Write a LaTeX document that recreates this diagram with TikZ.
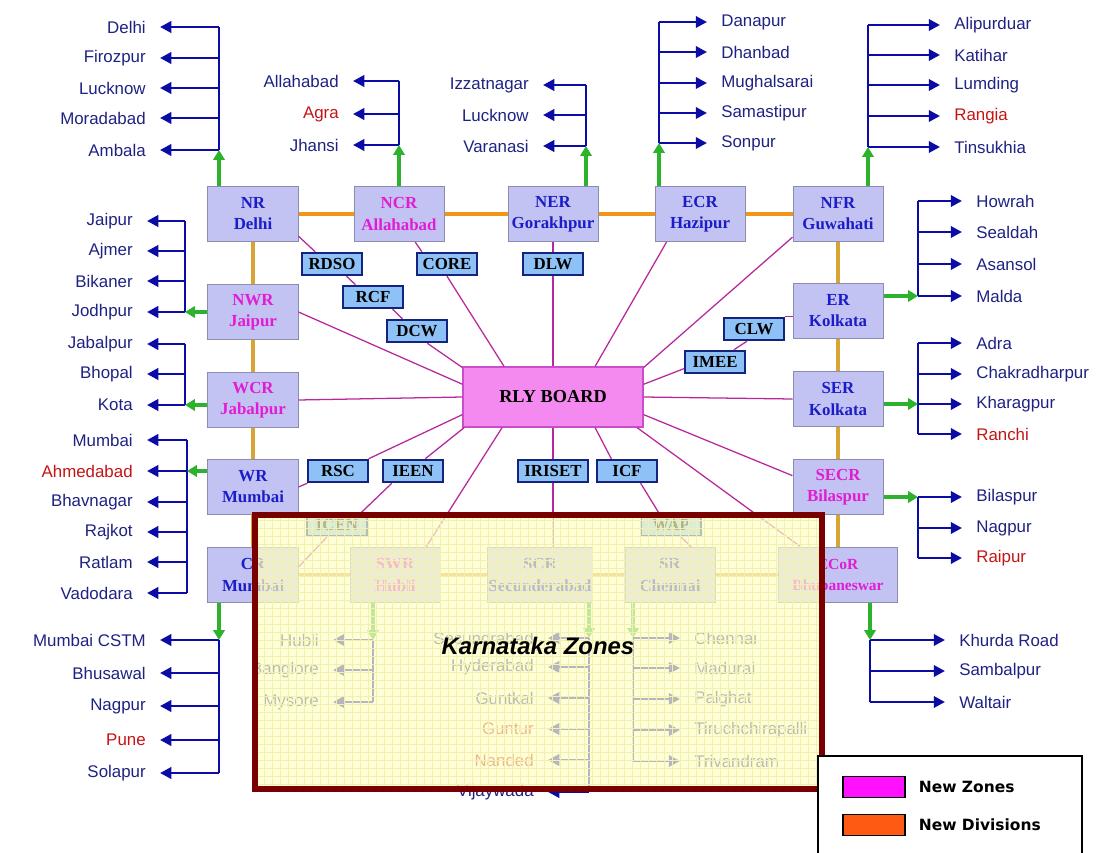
\documentclass[tikz,border=0pt]{standalone}
\usepackage{fontspec}
\setmainfont{Liberation Sans}
\newfontfamily\zonefont{Liberation Serif}
\newfontfamily\legfont{DejaVu Sans}
\usetikzlibrary{arrows.meta, positioning}
\definecolor{zonefill}{HTML}{C2C3F2}
\definecolor{zoneedge}{HTML}{8A8CB0}
\definecolor{zoneblue}{HTML}{1C1CC8}
\definecolor{zonemag}{HTML}{E21CD6}
\definecolor{divblue}{HTML}{1E2282}
\definecolor{divred}{HTML}{C41414}
\definecolor{arrblue}{HTML}{0B0BA6}
\definecolor{arrgreen}{HTML}{2DB22D}
\definecolor{linkorange}{HTML}{F2961A}
\definecolor{linkgold}{HTML}{D9A436}
\definecolor{linkpink}{HTML}{B8289C}
\definecolor{unitfill}{HTML}{8EC2F6}
\definecolor{unitedge}{HTML}{14237E}
\definecolor{boardfill}{HTML}{F48AF0}
\definecolor{boardedge}{HTML}{C84FC8}
\definecolor{kframe}{HTML}{7A0000}
\definecolor{kfill}{HTML}{FFFFC6}
\definecolor{kgrid}{HTML}{F3EFAE}
\definecolor{newzone}{HTML}{FF10FF}
\definecolor{newdiv}{HTML}{FF5A14}

\tikzset{
  zone/.style={draw=zoneedge, line width=0.7pt, fill=zonefill, minimum width=2.25cm,
    minimum height=1.38cm, align=center, inner sep=1pt,
    font=\zonefont\bfseries\fontsize{12}{15}\selectfont},
  unit/.style={draw=unitedge, line width=1.5pt, fill=unitfill, minimum width=1.48cm,
    minimum height=0.56cm, inner sep=1pt, font=\zonefont\bfseries\fontsize{12}{14}\selectfont},
  board/.style={draw=boardedge, line width=0.8pt, fill=boardfill, minimum width=4.5cm,
    minimum height=1.5cm, font=\zonefont\bfseries\fontsize{13}{15}\selectfont},
  divl/.style={font=\fontsize{12}{14}\selectfont, inner xsep=10pt, inner ysep=1pt},
  grn/.style={arrgreen, line width=2.8pt, -{Triangle[length=7pt, width=8pt]}},
  blu/.style={arrblue, line width=2pt, -{Triangle[length=8pt, width=8pt]}},
  stem/.style={arrblue, line width=1.6pt},
  orn/.style={linkorange, line width=2.6pt},
  gld/.style={linkgold, line width=2.6pt},
  pnk/.style={linkpink, line width=0.9pt},
  swatch/.style={draw=black, line width=1.2pt, minimum width=1.55cm, minimum height=0.52cm, inner sep=0pt},
  legt/.style={font=\legfont\bfseries\fontsize{11}{13}\selectfont},
}

\begin{document}
\begin{tikzpicture}[x=0.025cm, y=-0.025cm]
  \clip (0,0) rectangle (1104,853);

  % Zones
  \node[zone, text=zoneblue] (nr) at (253,214) {NR\\Delhi};
  \node[zone, text=zonemag] (ncr) at (399,214) {NCR\\Allahabad};
  \node[zone, text=zoneblue] (ner) at (553,214) {NER\\Gorakhpur};
  \node[zone, text=zoneblue] (ecr) at (700,214) {ECR\\Hazipur};
  \node[zone, text=zoneblue] (nfr) at (838,214) {NFR\\Guwahati};
  \node[zone, text=zonemag] (nwr) at (253,312) {NWR\\Jaipur};
  \node[zone, text=zonemag] (wcr) at (253,400) {WCR\\Jabalpur};
  \node[zone, text=zoneblue] (wr) at (253,487) {WR\\Mumbai};
  \node[zone, text=zoneblue] (cr) at (253,575) {CR\\Mumbai};
  \node[zone, text=zoneblue] (er) at (838,311) {ER\\Kolkata};
  \node[zone, text=zoneblue] (ser) at (838,399) {SER\\Kolkata};
  \node[zone, text=zonemag] (secr) at (838,487) {SECR\\Bilaspur};
  \node[zone, text=zonemag, minimum width=2.97cm, font=\zonefont\bfseries\fontsize{11}{15}\selectfont] (ecor) at (838,575) {ECoR\\Bhubaneswar};
  \node[zone, text=zonemag] (swr) at (395,575) {SWR\\Hubli};
  \node[zone, text=zoneblue, minimum width=2.62cm] (scr) at (540,575) {SCR\\Secunderabad};
  \node[zone, text=zoneblue] (sr) at (670,575) {SR\\Chennai};

  % Board and units
  \node[board] (rly) at (553,397) {RLY BOARD};
  \node[unit] (rdso) at (332,264) {RDSO};
  \node[unit] (core) at (447,264) {CORE};
  \node[unit] (dlw) at (553,264) {DLW};
  \node[unit] (rcf) at (373,297) {RCF};
  \node[unit] (dcw) at (417,331) {DCW};
  \node[unit] (clw) at (754,329) {CLW};
  \node[unit] (imee) at (715,362) {IMEE};
  \node[unit] (rsc) at (338,471) {RSC};
  \node[unit] (ieen) at (413,471) {IEEN};
  \node[unit, minimum width=1.75cm] (iriset) at (553,471) {IRISET};
  \node[unit] (icf) at (627,471) {ICF};
  \node[unit] (icen) at (337,525) {ICEN};
  \node[unit] (wap) at (671,525) {WAP};

  % Links between zones
  \foreach \a/\b in {nr/ncr, ncr/ner, ner/ecr, ecr/nfr}
    \draw[orn] (\a) -- (\b);
  \foreach \a/\b in {nr/nwr, nwr/wcr, wcr/wr, wr/cr, nfr/er, er/ser, ser/secr, secr/ecor,
                     cr/swr, swr/scr, scr/sr, sr/ecor}
    \draw[gld] (\a) -- (\b);

  % Links from the board
  \draw[pnk] (nwr.east) -- (rly.172);
  \draw[pnk] (wcr.east) -- (rly.west);
  \draw[pnk] (rly.191) -- (rsc.north east);
  \draw[pnk] (wr.east) -- (rsc.south west);
  \draw[pnk] (rly.199) -- (ieen.45);
  \draw[pnk] (ieen.210) -- (icen.27);
  \draw[pnk] (icen.230) -- (cr.10);
  \draw[pnk] (rly.211) -- (swr.42);
  \draw[pnk] (rly.south) -- (iriset.north);
  \draw[pnk] (iriset.south) -- (iriset.south |- scr.north);
  \draw[pnk] (rly.-36) -- (icf.142);
  \draw[pnk] (icf.-42) -- (wap.135);
  \draw[pnk] (wap.-50) -- (sr.53);
  \draw[pnk] (rly.-20) -- (ecor.143);
  \draw[pnk] (rly.-11) -- (secr.166);
  \draw[pnk] (rly.east) -- (ser.west);
  \draw[pnk] (rly.8) -- (imee.192);
  \draw[pnk] (imee.33) -- (clw.240);
  \draw[pnk] (clw.north east) -- (er.west |- clw.north east);
  \draw[pnk] (rly.18) -- (nfr.207);
  \draw[pnk] (rly.36) -- (ecr.220);
  \draw[pnk] (rly.north) -- (dlw.south);
  \draw[pnk] (dlw.north) -- (dlw.north |- ner.south);
  \draw[pnk] (rly.148) -- (core.south);
  \draw[pnk] (core.154) -- (ncr.-60);
  \draw[pnk] (rly.162) -- (dcw.-50);
  \draw[pnk] (dcw.140) -- (rcf.-32);
  \draw[pnk] (rcf.145) -- (rdso.-40);
  \draw[pnk] (rdso.144) -- (nr.-26);

  % Divisions, left pointing
  \coordinate (nrs) at (219,150);
  \foreach \nm/\y/\cl [count=\i] in {Delhi/27/divblue, Firozpur/58/divblue, Lucknow/88/divblue,
      Moradabad/118/divblue, Ambala/150/divblue}{
    \node[divl, text=\cl, anchor=east] (nr\i) at (160,\y) {\nm};
    \draw[blu] (nrs |- nr\i) -- (nr\i.east);
  }
  \draw[stem] (nrs |- nr1) -- (nrs);
  \draw[grn] (nrs |- nr.north) -- (nrs);

  \coordinate (ncrs) at (399,145);
  \foreach \nm/\y/\cl [count=\i] in {Allahabad/81/divblue, Agra/114/divred, Jhansi/145/divblue}{
    \node[divl, text=\cl, anchor=east] (ncr\i) at (353,\y) {\nm};
    \draw[blu] (ncrs |- ncr\i) -- (ncr\i.east);
  }
  \draw[stem] (ncrs |- ncr1) -- (ncrs);
  \draw[grn] (ncrs |- ncr.north) -- (ncrs);

  \coordinate (ners) at (586,146);
  \foreach \nm/\y/\cl [count=\i] in {Izzatnagar/85/divblue, Lucknow/115/divblue, Varanasi/146/divblue}{
    \node[divl, text=\cl, anchor=east] (ner\i) at (543,\y) {\nm};
    \draw[blu] (ners |- ner\i) -- (ner\i.east);
  }
  \draw[stem] (ners |- ner1) -- (ners);
  \draw[grn] (ners |- ner.north) -- (ners);

  \coordinate (nwrs) at (185,312);
  \foreach \nm/\y/\cl [count=\i] in {Jaipur/221/divblue, Ajmer/251/divblue, Bikaner/281/divblue,
      Jodhpur/312/divblue}{
    \node[divl, text=\cl, anchor=east] (nwr\i) at (147,\y) {\nm};
    \draw[blu] (nwrs |- nwr\i) -- (nwr\i.east);
  }
  \draw[stem] (nwrs |- nwr1) -- (nwrs);
  \draw[grn] (nwr.west |- nwrs) -- (nwrs);

  \coordinate (wcrs) at (185,405);
  \foreach \nm/\y/\cl [count=\i] in {Jabalpur/344/divblue, Bhopal/374/divblue, Kota/405/divblue}{
    \node[divl, text=\cl, anchor=east] (wcr\i) at (147,\y) {\nm};
    \draw[blu] (wcrs |- wcr\i) -- (wcr\i.east);
  }
  \draw[stem] (wcrs |- wcr1) -- (wcrs);
  \draw[grn] (wcr.west |- wcrs) -- (wcrs);

  \coordinate (wrs) at (187,471);
  \foreach \nm/\y/\cl [count=\i] in {Mumbai/440/divblue, Ahmedabad/471/divred, Bhavnagar/502/divblue,
      Rajkot/532/divblue, Ratlam/562/divblue, Vadodara/593/divblue}{
    \node[divl, text=\cl, anchor=east] (wr\i) at (147,\y) {\nm};
    \draw[blu] (wrs |- wr\i) -- (wr\i.east);
  }
  \draw[stem] (wrs |- wr1) -- (wrs |- wr6);
  \draw[grn] (wr.west |- wrs) -- (wrs);

  \coordinate (crs) at (219,640);
  \foreach \nm/\y/\cl [count=\i] in {Mumbai CSTM/640/divblue, Bhusawal/673/divblue, Nagpur/706/divblue,
      Pune/740/divred, Solapur/773/divblue}{
    \node[divl, text=\cl, anchor=east] (cr\i) at (160,\y) {\nm};
    \draw[blu] (crs |- cr\i) -- (cr\i.east);
  }
  \draw[stem] (crs) -- (crs |- cr5);
  \draw[grn] (crs |- cr.south) -- (crs);

  \coordinate (swrs) at (373,640);
  \foreach \nm/\y/\cl [count=\i] in {Hubli/640/divblue, Banglore/670/divblue, Mysore/702/divblue}{
    \node[divl, text=\cl, anchor=east] (swr\i) at (333,\y) {\nm};
    \draw[blu] (swrs |- swr\i) -- (swr\i.east);
  }
  \draw[stem] (swrs) -- (swrs |- swr3);
  \draw[grn] (swrs |- swr.south) -- (swrs);

  \coordinate (scrs) at (589,638);
  \foreach \nm/\y/\cl [count=\i] in {Secundrabad/638/divblue, Hyderabad/667/divblue, Guntkal/698/divblue,
      Guntur/729/divred, Nanded/760/divred, Vijaywada/792/divblue}{
    \node[divl, text=\cl, anchor=east] (scr\i) at (548,\y) {\nm};
    \draw[blu] (scrs |- scr\i) -- (scr\i.east);
  }
  \draw[stem] (scrs) -- (scrs |- scr6);
  \draw[grn] (scrs |- scr.south) -- (scrs);

  % Divisions, right pointing
  \coordinate (ecrs) at (659,143);
  \foreach \nm/\y/\cl [count=\i] in {Danapur/22/divblue, Dhanbad/52/divblue, Mughalsarai/83/divblue,
      Samastipur/113/divblue, Sonpur/143/divblue}{
    \node[divl, text=\cl, anchor=west] (ecr\i) at (707,\y) {\nm};
    \draw[blu] (ecrs |- ecr\i) -- (ecr\i.west);
  }
  \draw[stem] (ecrs |- ecr1) -- (ecrs);
  \draw[grn] (ecrs |- ecr.north) -- (ecrs);

  \coordinate (nfrs) at (868,147);
  \foreach \nm/\y/\cl [count=\i] in {Alipurduar/25/divblue, Katihar/55/divblue, Lumding/85/divblue,
      Rangia/116/divred, Tinsukhia/147/divblue}{
    \node[divl, text=\cl, anchor=west] (nfr\i) at (940,\y) {\nm};
    \draw[blu] (nfrs |- nfr\i) -- (nfr\i.west);
  }
  \draw[stem] (nfrs |- nfr1) -- (nfrs);
  \draw[grn] (nfrs |- nfr.north) -- (nfrs);

  \coordinate (ers) at (918,296);
  \foreach \nm/\y/\cl [count=\i] in {Howrah/201/divblue, Sealdah/232/divblue, Asansol/264/divblue,
      Malda/296/divblue}{
    \node[divl, text=\cl, anchor=west] (er\i) at (962,\y) {\nm};
    \draw[blu] (ers |- er\i) -- (er\i.west);
  }
  \draw[stem] (ers |- er1) -- (ers);
  \draw[grn] (er.east |- ers) -- (ers);

  \coordinate (sers) at (918,404);
  \foreach \nm/\y/\cl [count=\i] in {Adra/343/divblue, Chakradharpur/374/divblue, Kharagpur/404/divblue,
      Ranchi/434/divred}{
    \node[divl, text=\cl, anchor=west] (ser\i) at (962,\y) {\nm};
    \draw[blu] (sers |- ser\i) -- (ser\i.west);
  }
  \draw[stem] (sers |- ser1) -- (sers |- ser4);
  \draw[grn] (ser.east |- sers) -- (sers);

  \coordinate (secrs) at (918,497);
  \foreach \nm/\y/\cl [count=\i] in {Bilaspur/497/divblue, Nagpur/528/divblue, Raipur/558/divred}{
    \node[divl, text=\cl, anchor=west] (secr\i) at (962,\y) {\nm};
    \draw[blu] (secrs |- secr\i) -- (secr\i.west);
  }
  \draw[stem] (secrs) -- (secrs |- secr3);
  \draw[grn] (secr.east |- secrs) -- (secrs);

  \coordinate (ecors) at (870,640);
  \foreach \nm/\y/\cl [count=\i] in {Khurda Road/640/divblue, Sambalpur/671/divblue, Waltair/702/divblue}{
    \node[divl, text=\cl, anchor=west] (ecor\i) at (945,\y) {\nm};
    \draw[blu] (ecors |- ecor\i) -- (ecor\i.west);
  }
  \draw[stem] (ecors) -- (ecors |- ecor3);
  \draw[grn] (ecors |- ecor.south) -- (ecors);

  \coordinate (srs) at (633,638);
  \foreach \nm/\y/\cl [count=\i] in {Chennai/638/divblue, Madurai/668/divblue, Palghat/699/divblue,
      Tiruchchirapalli/730/divblue, Trivandram/761/divblue}{
    \node[divl, text=\cl, anchor=west] (sr\i) at (680,\y) {\nm};
    \draw[blu] (srs |- sr\i) -- (sr\i.west);
  }
  \draw[stem] (srs) -- (srs |- sr5);
  \draw[grn] (srs |- sr.south) -- (srs);

  % Karnataka frame
  \fill[kfill, fill opacity=0.7] (255,515) rectangle (822,789);
  \draw[kgrid, line width=0.25pt, step=0.2cm] (255,515) grid (822,789);
  \draw[kframe, line width=3.6pt] (255,515) rectangle (822,789);
  \node[font=\bfseries\itshape\fontsize{17}{20}\selectfont] (kz) at (538,646) {Karnataka Zones};

  % Legend
  \draw[fill=white, line width=1pt] (818,756) rectangle (1082,880);
  \node[swatch, fill=newzone] (nzs) at (874,787) {};
  \node[legt, right=0.2cm of nzs] (nzt) {New Zones};
  \node[swatch, fill=newdiv] (nds) at (874,825) {};
  \node[legt, right=0.2cm of nds] (ndt) {New Divisions};
\end{tikzpicture}
\end{document}
